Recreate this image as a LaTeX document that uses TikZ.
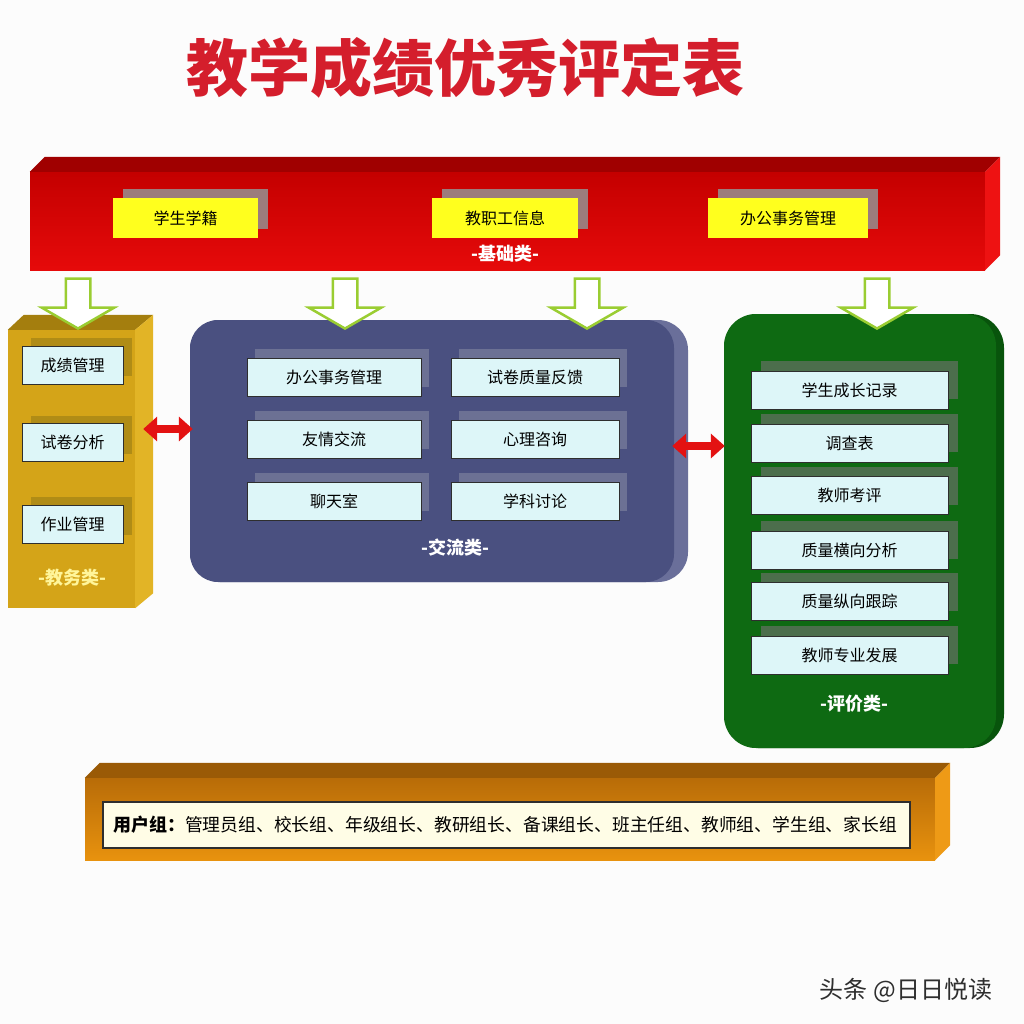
\documentclass[tikz,border=0pt]{standalone}
\usepackage{fontspec}
\newfontfamily\cjk{Noto Sans CJK SC}
\usepackage{tikz}
\usetikzlibrary{arrows.meta,positioning,shapes.arrows,shadows}
\definecolor{paper}{HTML}{FCFCFC}
\definecolor{titlered}{HTML}{D41E2C}
\definecolor{barred}{HTML}{E60A0A}
\definecolor{barreddk}{HTML}{C40000}
\definecolor{barredtop}{HTML}{A00000}
\definecolor{barredside}{HTML}{EE1212}
\definecolor{tagyellow}{HTML}{FFFF1E}
\definecolor{tagshade}{HTML}{9C7C7C}
\definecolor{gold}{HTML}{D4A418}
\definecolor{goldtop}{HTML}{A47E0E}
\definecolor{goldside}{HTML}{E2B426}
\definecolor{goldshade}{HTML}{B08C16}
\definecolor{goldtext}{HTML}{FFF59A}
\definecolor{slate}{HTML}{4A5080}
\definecolor{slateedge}{HTML}{6A6F9A}
\definecolor{slateshade}{HTML}{6C7194}
\definecolor{forest}{HTML}{0E6A12}
\definecolor{forestedge}{HTML}{08540C}
\definecolor{forestshade}{HTML}{4C6E4C}
\definecolor{cellfill}{HTML}{DDF6F8}
\definecolor{amber}{HTML}{E8920E}
\definecolor{amberdk}{HTML}{B86C08}
\definecolor{ambertop}{HTML}{9A5A06}
\definecolor{amberside}{HTML}{EE9A16}
\definecolor{cream}{HTML}{FFFDE6}
\definecolor{leafgreen}{HTML}{9ACD32}
\definecolor{linkred}{HTML}{E31212}
\definecolor{inkgray}{HTML}{2E2E2E}
\tikzset{
  slab/.style  ={inner sep=0pt,draw=none},
  cell/.style  ={draw=inkgray,line width=1pt,fill=cellfill,minimum height=38pt,
                 inner sep=0pt,font=\cjk\fontsize{16}{18}\selectfont},
  jwcell/.style={cell,minimum width=101pt,
                 drop shadow={shadow xshift=9pt,shadow yshift=8pt,fill=goldshade,opacity=1}},
  jlcell/.style={cell,
                 drop shadow={shadow xshift=8pt,shadow yshift=9pt,fill=slateshade,opacity=1}},
  pjcell/.style={cell,minimum width=197pt,
                 drop shadow={shadow xshift=10pt,shadow yshift=10pt,fill=forestshade,opacity=1}},
  tag/.style   ={fill=tagyellow,minimum height=40pt,inner sep=0pt,
                 font=\cjk\fontsize{16}{18}\selectfont,
                 drop shadow={shadow xshift=10pt,shadow yshift=9pt,fill=tagshade,opacity=1}},
  kind/.style  ={inner sep=1pt,text=white,font=\cjk\bfseries\fontsize{18}{20}\selectfont},
  downarr/.style={single arrow,shape border rotate=270,draw=leafgreen,line width=2.5pt,
                 fill=white,minimum height=50pt,inner sep=11pt,
                 single arrow head extend=24pt,single arrow tip angle=120},
  link/.style  ={{Triangle[width=24pt,length=14pt]}-{Triangle[width=24pt,length=14pt]},
                 line width=8pt,draw=linkred}
}
\begin{document}
\begin{tikzpicture}[x=1pt,y=-1pt]
  \useasboundingbox (0,0) rectangle (1024,1024);
  \fill[paper] (0,0) rectangle (1024,1024);

  \node[text=titlered,font=\cjk\bfseries\fontsize{62}{64}\selectfont] (ttl) at (465,68) {教学成绩优秀评定表};

  % base bar
  \node[slab,top color=barreddk,bottom color=barred,minimum width=955pt,minimum height=98pt] (jc) at (507.5,221) {};
  \fill[barredtop] (jc.north west) -- ++(15,-15) -- ([shift={(15,-15)}]jc.north east) -- (jc.north east) -- cycle;
  \fill[barredside] (jc.north east) -- ++(15,-15) -- ([shift={(15,-15)}]jc.south east) -- (jc.south east) -- cycle;
  \node[tag,minimum width=145pt] (xj) at (185.5,218) {学生学籍};
  \node[tag,minimum width=146pt] (jz) at (505,218) {教职工信息};
  \node[tag,minimum width=160pt] (bg) at (788,218) {办公事务管理};
  \node[kind,below=6pt of jz] (jclbl) {-基础类-};

  % jiaowu
  \node[slab,fill=gold,minimum width=127pt,minimum height=278pt] (jw) at (71.5,469) {};
  \fill[goldtop] (jw.north west) -- ++(16,-15) -- ([shift={(18,-15)}]jw.north east) -- (jw.north east) -- cycle;
  \fill[goldside] (jw.north east) -- ++(18,-15) -- ([shift={(18,-15)}]jw.south east) -- (jw.south east) -- cycle;
  \node[jwcell] (cj) at (72.5,365) {成绩管理};
  \node[jwcell] (sj) at (72.5,442.5) {试卷分析};
  \node[jwcell] (zy) at (72.5,524) {作业管理};
  \node[kind,text=goldtext] (jwlbl) at (72,578) {-教务类-};

  % jiaoliu
  \node[slab,fill=slateedge,rounded corners=30pt,minimum width=498pt,minimum height=262pt] (jl) at (439,451) {};
  \fill[slate,rounded corners=28pt] (190,320) rectangle (674,582);
  \node[jlcell,minimum width=174pt] (bgs) at (334,377) {办公事务管理};
  \node[jlcell,minimum width=168pt] (zlfk) at (535,377) {试卷质量反馈};
  \node[jlcell,minimum width=174pt] (yq) at (334,439) {友情交流};
  \node[jlcell,minimum width=168pt] (xl) at (535,439) {心理咨询};
  \node[jlcell,minimum width=174pt] (lt) at (334,501) {聊天室};
  \node[jlcell,minimum width=168pt] (xk) at (535,501) {学科讨论};
  \node[kind] (jllbl) at (455,548) {-交流类-};

  % pingjia
  \node[slab,fill=forestedge,rounded corners=34pt,minimum width=280pt,minimum height=434pt] (pj) at (864,531) {};
  \fill[forest,rounded corners=32pt] (724,314) rectangle (996,748);
  \node[pjcell] (cz) at (849.5,390) {学生成长记录};
  \node[pjcell] (dc) at (849.5,443) {调查表};
  \node[pjcell] (kp) at (849.5,495.5) {教师考评};
  \node[pjcell] (hx) at (849.5,550) {质量横向分析};
  \node[pjcell] (zx) at (849.5,601.5) {质量纵向跟踪};
  \node[pjcell] (fz) at (849.5,655) {教师专业发展};
  \node[kind] (pjlbl) at (854,704) {-评价类-};

  % arrows from the base bar
  \node[downarr] (d1) at (78,300) {};
  \node[downarr] (d2) at (345,300) {};
  \node[downarr] (d3) at (587,300) {};
  \node[downarr] (d4) at (877,300) {};

  \draw[link] ([xshift=8pt,yshift=40pt]jw.east) -- ([xshift=3pt,yshift=22pt]jl.west);
  \draw[link] ([xshift=-16pt,yshift=5pt]jl.east) -- ([xshift=1pt,yshift=85pt]pj.west);

  % user groups
  \node[slab,top color=amberdk,bottom color=amber,minimum width=850pt,minimum height=82pt] (yh) at (510,819) {};
  \fill[ambertop] (yh.north west) -- ++(15,-15) -- ([shift={(15,-15)}]yh.north east) -- (yh.north east) -- cycle;
  \fill[amberside] (yh.north east) -- ++(15,-15) -- ([shift={(15,-15)}]yh.south east) -- (yh.south east) -- cycle;
  \node[draw=inkgray,line width=1.5pt,fill=cream,minimum height=46pt,text width=787pt,
        inner xsep=10pt,inner ysep=0pt,align=left,font=\cjk\fontsize{17.8}{19}\selectfont]
        (yhz) at (506.5,825) {{\bfseries\fontsize{18}{20}\selectfont 用户组：}管理员组、校长组、年级组长、教研组长、备课组长、班主任组、教师组、学生组、家长组};

  \node[text=inkgray,font=\cjk\fontsize{24}{26}\selectfont] (wm) at (906,990) {头条 @日日悦读};
\end{tikzpicture}
\end{document}
